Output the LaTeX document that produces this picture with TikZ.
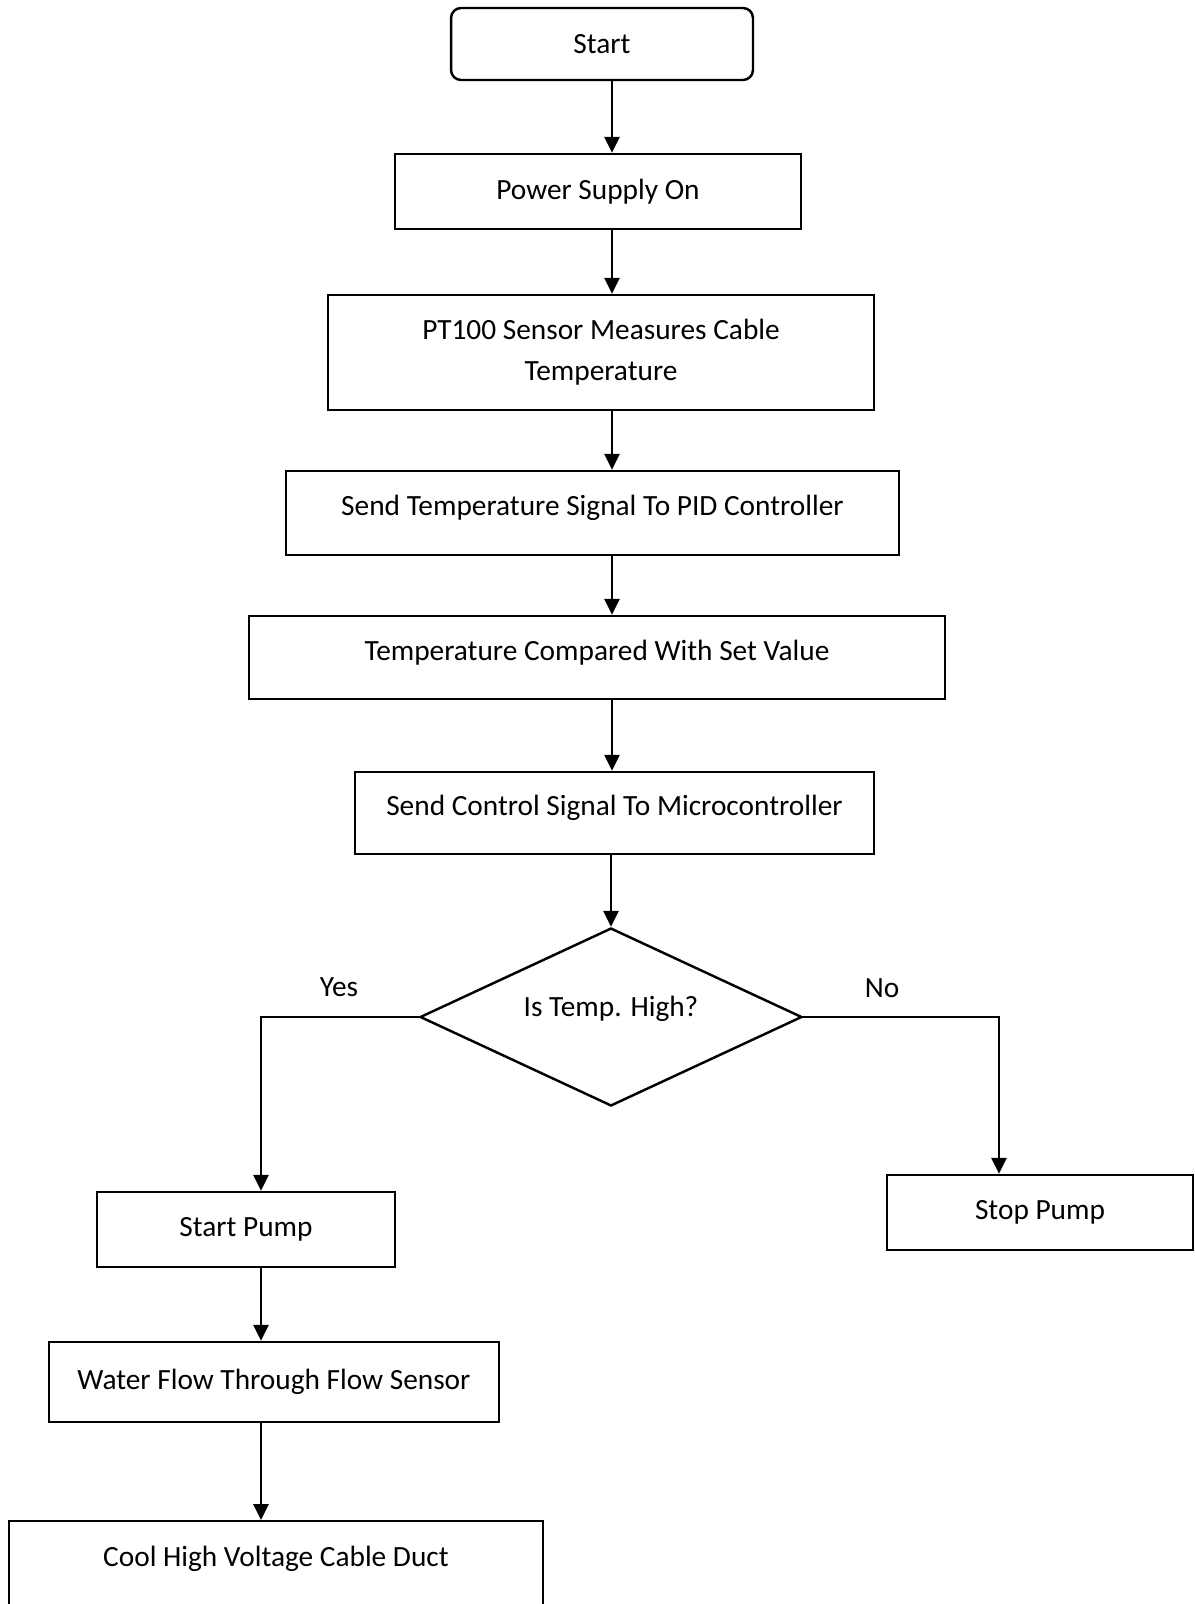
\documentclass[tikz,border=0pt]{standalone}
\usepackage{fontspec}
\setmainfont{Carlito}
\usetikzlibrary{arrows.meta,shapes.geometric}

\begin{document}
\begin{tikzpicture}[x=0.02cm, y=-0.02cm,
  font=\fontsize{16.7}{23.5}\selectfont,
  stepbox/.style={draw, line width=1.4pt, align=center, inner sep=0pt},
  liftbox/.style={stepbox, text depth=0.3cm},
  flow/.style={-{Triangle[length=0.32cm, width=0.3cm]}, line width=1.5pt}]
  \useasboundingbox (0,0) rectangle (1194,1604);

  % --- Main column ---
  \node[stepbox, rounded corners=0.2cm, minimum width=6.04cm, minimum height=1.44cm] (start) at (602,44) {Start};
  \node[stepbox, minimum width=8.12cm, minimum height=1.5cm] (power) at (598,191.5) {Power Supply On};
  \node[stepbox, minimum width=10.92cm, minimum height=2.3cm] (sensor) at (601,352.5) {PT100 Sensor Measures Cable\\Temperature};
  \node[liftbox, minimum width=12.26cm, minimum height=1.68cm] (sendtemp) at (592.5,513) {Send Temperature Signal To PID Controller};
  \node[liftbox, minimum width=13.92cm, minimum height=1.66cm] (compare) at (597,657.5) {Temperature Compared With Set Value};
  \node[liftbox, minimum width=10.38cm, minimum height=1.64cm] (control) at (614.5,813) {Send Control Signal To Microcontroller};

  % --- Decision ---
  \node[draw, line width=1.4pt, diamond, aspect=2.15, inner sep=0pt, text depth=0.42cm, minimum width=7.64cm, minimum height=3.56cm] (high) at (611,1017) {Is Temp. High?};
  \node (yes) at (339,987) {Yes};
  \node (no) at (882,988) {No};

  % --- Branches ---
  \node[stepbox, minimum width=5.96cm, minimum height=1.5cm] (startpump) at (246,1229.5) {Start Pump};
  \node[stepbox, minimum width=6.12cm, minimum height=1.5cm] (stoppump) at (1040,1212.5) {Stop Pump};
  \node[stepbox, minimum width=9.0cm, minimum height=1.6cm] (waterflow) at (274,1382) {Water Flow Through Flow Sensor};
  \node[stepbox, anchor=north, minimum width=10.68cm, inner ysep=0.5cm, text height=0.4cm, text depth=1.2cm] (cool) at (276,1520) {Cool High Voltage Cable Duct};

  % --- Arrow columns ---
  \coordinate (axis) at (612,0);
  \coordinate (leftaxis) at (261,0);
  \coordinate (rightaxis) at (999,0);

  % --- Connectors ---
  \draw[flow] (start.south -| axis) -- (power.north -| axis);
  \draw[flow] (power.south -| axis) -- (sensor.north -| axis);
  \draw[flow] (sensor.south -| axis) -- (sendtemp.north -| axis);
  \draw[flow] (sendtemp.south -| axis) -- (compare.north -| axis);
  \draw[flow] (compare.south -| axis) -- (control.north -| axis);
  \draw[flow] (control.south -| high.north) -- (high.north);
  \draw[flow] (high.west) -| (leftaxis |- startpump.north);
  \draw[flow] (high.east) -| (rightaxis |- stoppump.north);
  \draw[flow] (startpump.south -| leftaxis) -- (waterflow.north -| leftaxis);
  \draw[flow] (waterflow.south -| leftaxis) -- (cool.north -| leftaxis);
\end{tikzpicture}
\end{document}
